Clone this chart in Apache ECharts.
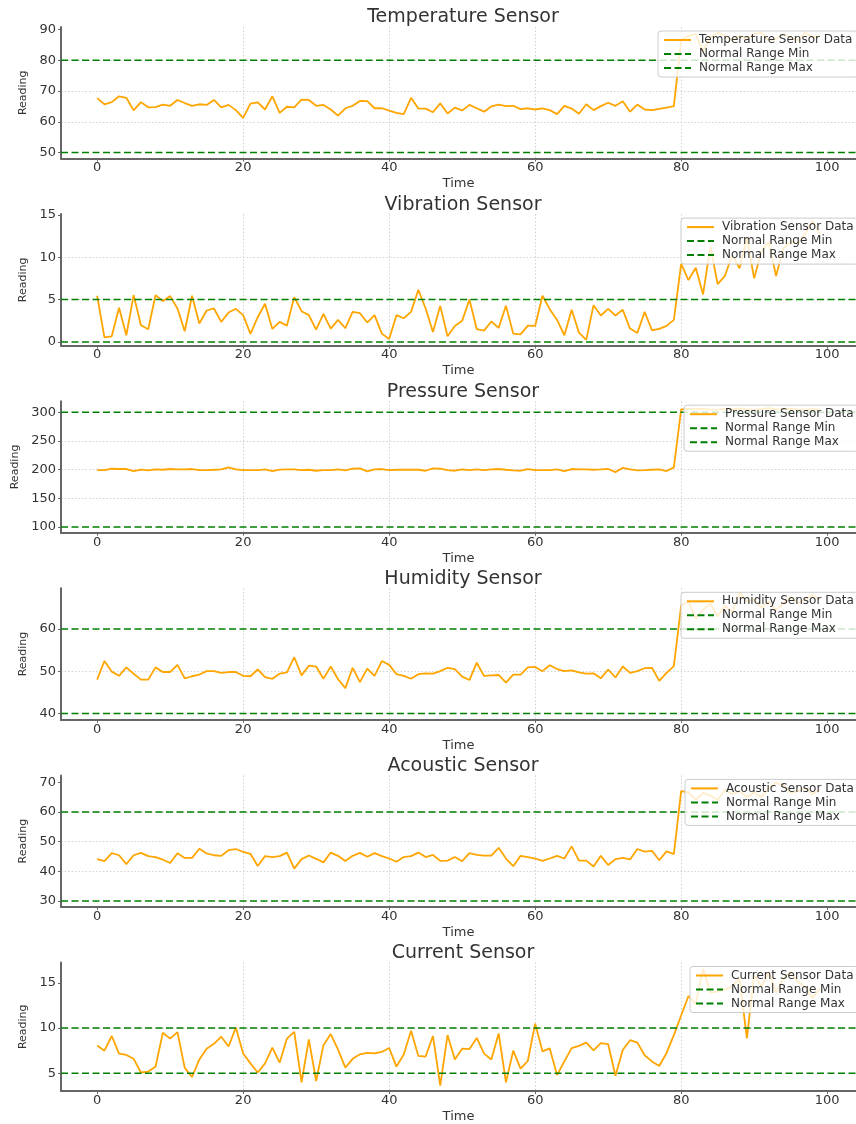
<!DOCTYPE html>
<html>
<head>
<meta charset="utf-8">
<script src="https://cdn.jsdelivr.net/npm/echarts@6/dist/echarts.min.js"></script>
<style>
  html, body { margin: 0; padding: 0; background: #ffffff; }
  #chart { width: 856px; height: 1124px; }
</style>
</head>
<body>
<div id="chart"></div>
<script>
// Time index shared by every sensor trace
const timeSteps = Array.from({ length: 100 }, (_, i) => i);
const xTicks = [0, 20, 40, 60, 80, 100];

// Temperature sensor
const temperatureValues = [
  67.7, 65.7, 66.4, 68.3, 67.8, 63.7, 66.4, 64.7, 64.8, 65.6,
  65.2, 67.1, 66.1, 65.2, 65.7, 65.5, 67.1, 64.7, 65.5, 63.8,
  61.3, 65.9, 66.3, 64.0, 68.3, 62.9, 64.9, 64.7, 67.2, 67.1,
  65.2, 65.5, 64.0, 62.0, 64.4, 65.2, 66.8, 66.7, 64.4, 64.4,
  63.6, 62.9, 62.5, 67.8, 64.3, 64.3, 63.1, 66.0, 62.7, 64.6,
  63.7, 65.5, 64.4, 63.3, 65.0, 65.6, 65.1, 65.2, 64.1, 64.4,
  64.0, 64.4, 63.8, 62.5, 65.2, 64.3, 62.6, 65.7, 63.8, 65.1,
  66.2, 65.2, 66.7, 63.3, 65.6, 64.0, 63.8, 64.2, 64.6, 65.1,
  86.5, 88.0, 88.5, 83.0, 87.5, 89.0, 88.0, 86.5, 88.0, 87.0,
  88.5, 89.0, 86.5, 87.0, 88.5, 87.5, 86.5, 89.0, 87.5, 88.0
];
const temperatureRange = [50, 80];
const temperatureTicks = [50, 60, 70, 80, 90];

// Vibration sensor
const vibrationValues = [
  5.45, 0.55, 0.67, 4.03, 0.79, 5.53, 1.97, 1.50, 5.53, 4.81,
  5.41, 3.95, 1.26, 5.45, 2.17, 3.71, 3.95, 2.37, 3.47, 3.91,
  3.16, 0.95, 2.92, 4.50, 1.54, 2.37, 1.93, 5.29, 3.63, 3.16,
  1.46, 3.31, 1.58, 2.60, 1.62, 3.55, 3.39, 2.29, 3.16, 0.98,
  0.35, 3.16, 2.80, 3.55, 6.16, 3.95, 1.18, 4.26, 0.67, 1.89,
  2.49, 5.00, 1.50, 1.34, 2.41, 1.66, 4.26, 0.98, 0.90, 1.93,
  1.89, 5.45, 3.87, 2.60, 0.79, 3.79, 1.10, 0.24, 4.34, 3.12,
  3.91, 3.12, 3.79, 1.58, 1.06, 3.55, 1.38, 1.54, 1.89, 2.60,
  9.20, 7.30, 8.76, 5.60, 11.25, 6.83, 7.80, 10.26, 8.68, 12.24,
  7.50, 10.70, 11.80, 7.78, 11.05, 11.80, 11.60, 12.80, 14.30, 12.80
];
const vibrationRange = [0, 5];
const vibrationTicks = [0, 5, 10, 15];

// Pressure sensor
const pressureValues = [
  199.0, 199.0, 201.5, 201.0, 201.0, 197.5, 200.0, 198.5, 200.3, 199.7,
  201.0, 200.3, 200.3, 201.0, 199.0, 199.0, 199.7, 200.3, 203.8, 200.3,
  199.0, 199.0, 199.0, 200.3, 197.5, 200.0, 200.3, 200.3, 199.0, 199.7,
  198.0, 199.0, 199.0, 200.3, 198.5, 201.5, 202.0, 196.8, 200.3, 201.0,
  199.0, 199.7, 199.7, 199.7, 199.7, 198.0, 202.0, 201.5, 199.0, 198.0,
  200.3, 199.0, 200.3, 199.0, 200.3, 201.0, 199.7, 198.5, 198.0, 201.0,
  199.0, 199.0, 199.0, 200.3, 197.5, 201.0, 200.3, 200.3, 199.7, 200.3,
  201.0, 195.6, 203.2, 200.3, 198.5, 199.0, 199.7, 200.3, 197.5, 203.8,
  305.0, 306.0, 305.5, 306.0, 305.0, 304.5, 306.0, 305.0, 306.5, 305.0,
  304.0, 306.0, 307.0, 305.0, 305.5, 306.0, 305.0, 304.5, 305.5, 305.0
];
const pressureRange = [100, 300];
const pressureTicks = [100, 150, 200, 250, 300];

// Humidity sensor
const humidityValues = [
  48.0, 52.4, 49.9, 48.9, 50.9, 49.4, 48.0, 48.0, 50.9, 49.8,
  49.8, 51.5, 48.3, 48.8, 49.2, 50.0, 50.0, 49.6, 49.8, 49.8,
  48.9, 48.8, 50.4, 48.6, 48.2, 49.4, 49.7, 53.3, 49.0, 51.3,
  51.1, 48.2, 51.1, 48.1, 46.0, 50.8, 47.4, 50.6, 48.9, 52.4,
  51.5, 49.3, 48.9, 48.2, 49.3, 49.5, 49.4, 50.0, 50.8, 50.5,
  48.7, 47.9, 52.0, 48.9, 49.0, 49.1, 47.3, 49.2, 49.2, 50.9,
  51.0, 50.0, 51.4, 50.5, 50.0, 50.2, 49.7, 49.4, 49.5, 48.3,
  50.4, 48.5, 51.1, 49.6, 50.0, 50.7, 50.8, 47.7, 49.6, 51.2,
  65.5, 66.5, 62.5, 64.5, 66.0, 63.0, 65.5, 64.0, 68.5, 66.5,
  67.0, 65.0, 66.5, 64.5, 66.0, 67.5, 66.0, 67.0, 68.0, 67.0
];
const humidityRange = [40, 60];
const humidityTicks = [40, 50, 60];

// Acoustic sensor
const acousticValues = [
  44.1, 43.4, 46.1, 45.4, 42.4, 45.4, 46.2, 45.1, 44.8, 43.9,
  42.8, 46.1, 44.5, 44.5, 47.6, 46.0, 45.4, 45.2, 47.1, 47.5,
  46.5, 45.9, 41.8, 45.1, 44.8, 45.1, 46.3, 40.9, 44.1, 45.3,
  44.2, 43.0, 46.3, 45.2, 43.5, 45.2, 46.2, 44.9, 46.1, 45.1,
  44.3, 43.2, 44.8, 45.1, 46.3, 44.8, 45.5, 43.5, 43.6, 44.8,
  43.4, 46.1, 45.5, 45.3, 45.3, 47.9, 44.3, 41.7, 45.2, 44.8,
  44.3, 43.5, 44.3, 45.2, 44.3, 48.4, 43.6, 43.6, 41.6, 45.2,
  42.1, 44.1, 44.5, 44.0, 47.5, 46.6, 46.9, 43.7, 46.7, 45.8,
  67.0, 66.6, 64.1, 66.4, 65.5, 64.0, 67.5, 66.0, 67.0, 65.0,
  66.5, 65.0, 68.0, 69.8, 69.0, 66.5, 67.0, 68.0, 66.0, 67.5
];
const acousticRange = [30, 60];
const acousticTicks = [30, 40, 50, 60, 70];

// Current sensor
const currentValues = [
  8.07, 7.49, 9.12, 7.17, 7.02, 6.59, 5.07, 5.18, 5.72, 9.48,
  8.83, 9.55, 5.58, 4.57, 6.52, 7.71, 8.25, 9.04, 7.96, 10.05,
  7.17, 6.08, 5.07, 6.08, 7.82, 6.16, 8.83, 9.58, 3.99, 8.75,
  4.13, 8.10, 9.33, 7.60, 5.61, 6.59, 7.09, 7.24, 7.20, 7.35,
  7.78, 5.72, 7.06, 9.69, 6.91, 6.84, 9.12, 3.63, 9.22, 6.52,
  7.71, 7.67, 8.90, 7.17, 6.52, 9.40, 3.99, 7.49, 5.51, 6.37,
  10.49, 7.42, 7.74, 4.78, 6.30, 7.78, 8.03, 8.39, 7.53, 8.32,
  8.21, 4.71, 7.56, 8.65, 8.39, 6.99, 6.30, 5.79, 7.24, 9.22,
  11.39, 13.56, 12.65, 16.55, 13.92, 14.03, 14.28, 14.60, 15.50, 8.86,
  15.90, 14.60, 16.20, 13.90, 15.50, 16.20, 15.10, 14.60, 13.30, 14.40
];
const currentRange = [5, 10];
const currentTicks = [5, 10, 15];

// Panel setup: titles, series names and the value extent of each y axis
const panels = [
  { title: 'Temperature Sensor', label: 'Temperature Sensor Data', values: temperatureValues, range: temperatureRange, ticks: temperatureTicks, yMin: 48.05, yMax: 90.85, legendLeft: 658, nameGap: 24 },
  { title: 'Vibration Sensor', label: 'Vibration Sensor Data', values: vibrationValues, range: vibrationRange, ticks: vibrationTicks, yMin: -0.43, yMax: 15.08, legendLeft: 681, nameGap: 24 },
  { title: 'Pressure Sensor', label: 'Pressure Sensor Data', values: pressureValues, range: pressureRange, ticks: pressureTicks, yMin: 90, yMax: 319.2, legendLeft: 684, nameGap: 37 },
  { title: 'Humidity Sensor', label: 'Humidity Sensor Data', values: humidityValues, range: humidityRange, ticks: humidityTicks, yMin: 38.5, yMax: 69.6, legendLeft: 681, nameGap: 24 },
  { title: 'Acoustic Sensor', label: 'Acoustic Sensor Data', values: acousticValues, range: acousticRange, ticks: acousticTicks, yMin: 28, yMax: 72.3, legendLeft: 685, nameGap: 24 },
  { title: 'Current Sensor', label: 'Current Sensor Data', values: currentValues, range: currentRange, ticks: currentTicks, yMin: 3.02, yMax: 17.27, legendLeft: 690, nameGap: 24 }
];

const X_MIN = -4.95, X_MAX = 103.95;
const FONT = 'DejaVu Sans';
const TEXT = '#333333';
const SPINE = '#666666';
const GRID_LINE = { type: [1.5, 2], color: '#d2d2d2', width: 1 };

const option = {
  animation: false,
  backgroundColor: '#ffffff',
  title: [], grid: [], xAxis: [], yAxis: [], legend: [], series: []
};

panels.forEach((p, k) => {
  const top = 27 + 187.1 * k;
  option.title.push({
    text: p.title, left: 463, top: top - 19, textAlign: 'center', padding: 0,
    textStyle: { fontFamily: FONT, fontSize: 19, fontWeight: 'normal', color: TEXT }
  });
  option.grid.push({ left: 61, right: -9, top: top, height: 131.5, containLabel: false });
  option.xAxis.push({
    type: 'value', gridIndex: k, min: X_MIN, max: X_MAX, minInterval: 20, maxInterval: 20,
    name: 'Time', nameLocation: 'middle', nameGap: 19,
    nameTextStyle: { fontFamily: FONT, fontSize: 13, color: TEXT },
    axisLine: { show: true, onZero: false, lineStyle: { color: SPINE, width: 2 } },
    axisTick: { show: true, length: 3, customValues: xTicks, lineStyle: { color: SPINE, width: 1 } },
    axisLabel: { customValues: xTicks, margin: 3, fontFamily: FONT, fontSize: 13, color: TEXT },
    splitLine: { show: true, showMinLine: false, showMaxLine: false, lineStyle: GRID_LINE }
  });
  const step = p.ticks[1] - p.ticks[0];
  option.yAxis.push({
    type: 'value', gridIndex: k, min: p.yMin, max: p.yMax, minInterval: step, maxInterval: step,
    name: 'Reading', nameLocation: 'middle', nameGap: p.nameGap,
    nameTextStyle: { fontFamily: FONT, fontSize: 11, color: TEXT },
    axisLine: { show: true, onZero: false, lineStyle: { color: SPINE, width: 2 } },
    axisTick: { show: true, length: 3, customValues: p.ticks, lineStyle: { color: SPINE, width: 1 } },
    axisLabel: { customValues: p.ticks, margin: 5, fontFamily: FONT, fontSize: 13, color: TEXT },
    splitLine: { show: true, showMinLine: false, showMaxLine: false, lineStyle: GRID_LINE }
  });
  option.legend.push({
    data: [p.label, 'Normal Range Min', 'Normal Range Max'],
    orient: 'vertical', left: p.legendLeft, top: top + 4,
    padding: [3, 5], itemWidth: 27, itemHeight: 12, itemGap: 2,
    backgroundColor: 'rgba(255,255,255,0.8)', borderColor: '#cccccc', borderWidth: 1, borderRadius: 3,
    itemStyle: { opacity: 0 },
    selectedMode: false, z: 6,
    textStyle: { fontFamily: FONT, fontSize: 12, color: TEXT, padding: [0, 0, 0, 3] }
  });
  option.series.push({
    type: 'line', name: p.label, xAxisIndex: k, yAxisIndex: k,
    data: p.values.map((v, i) => [timeSteps[i], v]),
    symbol: 'none', z: 2,
    lineStyle: { color: '#FFA500', width: 1.8 }, itemStyle: { color: '#FFA500' }
  });
  ['Normal Range Min', 'Normal Range Max'].forEach((nm, j) => {
    option.series.push({
      type: 'line', name: nm, xAxisIndex: k, yAxisIndex: k,
      data: [[X_MIN, p.range[j]], [X_MAX, p.range[j]]],
      symbol: 'none', silent: true, z: 3,
      lineStyle: { color: '#008000', width: 1.5, type: [7, 3.5] }, itemStyle: { color: '#008000' }
    });
  });
});

const chart = echarts.init(document.getElementById('chart'), null, { renderer: 'canvas' });
chart.setOption(option);
</script>
</body>
</html>
